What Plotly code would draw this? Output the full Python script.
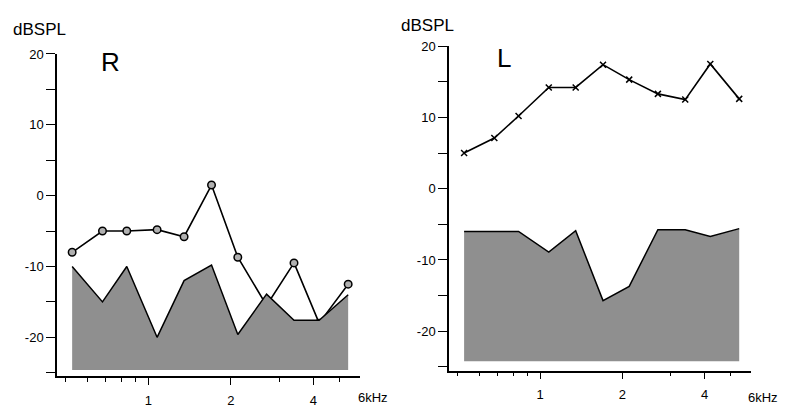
import math
import plotly.graph_objects as go

# ---------------- data ----------------
freq_khz = [0.527, 0.68, 0.834, 1.076, 1.35, 1.70, 2.12, 2.70, 3.40, 4.20, 5.36]

dp_R = [-8.0, -5.0, -5.0, -4.8, -5.8, 1.5, -8.7, -15.5, -9.5, -18.0, -12.5]
noise_R = [-10.0, -15.0, -10.0, -20.0, -12.0, -9.8, -19.6, -13.9, -17.6, -17.6, -14.0]

dp_L = [5.0, 7.1, 10.2, 14.2, 14.2, 17.4, 15.3, 13.3, 12.5, 17.5, 12.6]
noise_L = [-6.0, -6.0, -6.0, -8.9, -5.9, -15.7, -13.7, -5.75, -5.75, -6.7, -5.6]

noise_base_R = -24.6
noise_base_L = -24.2

y_tick_vals = [-25, -20, -15, -10, -5, 0, 5, 10, 15, 20]
y_tick_text = [str(v) if v % 10 == 0 and v != -25 else "" for v in y_tick_vals]
x_major_vals = [1, 2, 4]
x_major_text = ["1", "2", "4"]
x_minor_vals = [0.5, 0.6, 0.7, 0.8, 0.9, 3, 5, 6]

W, H = 785, 408
FONT = "Liberation Sans, Arial, sans-serif"

fig = go.Figure()


def add_panel(xa, ya, dp, noise, base, symbol, msize, mcolor):
    # DP-gram line (drawn first so the noise shading covers it)
    fig.add_trace(go.Scatter(
        x=freq_khz, y=dp, mode="lines+markers",
        line=dict(color="black", width=1.6),
        marker=dict(symbol=symbol, size=msize, color=mcolor,
                    line=dict(color="black", width=1.5)),
        xaxis=xa, yaxis=ya, showlegend=False, hoverinfo="skip"))
    # noise floor shading
    fig.add_trace(go.Scatter(
        x=freq_khz + freq_khz[::-1],
        y=noise + [base] * len(noise),
        mode="lines", fill="toself", fillcolor="#8f8f8f",
        line=dict(width=0), xaxis=xa, yaxis=ya,
        showlegend=False, hoverinfo="skip"))
    # noise top outline
    fig.add_trace(go.Scatter(
        x=freq_khz, y=noise, mode="lines",
        line=dict(color="black", width=1.5),
        xaxis=xa, yaxis=ya, showlegend=False, hoverinfo="skip"))


add_panel("x", "y", dp_R, noise_R, noise_base_R, "circle", 7.5, "#b0b0b0")
add_panel("x2", "y2", dp_L, noise_L, noise_base_L, "x-thin", 6, "black")

xrange_log = [math.log10(0.464), math.log10(5.92)]


def xaxis_cfg(x0, x1, anchor):
    return dict(
        type="log", range=xrange_log, domain=[x0 / W, x1 / W], anchor=anchor,
        tickmode="array", tickvals=x_major_vals, ticktext=x_major_text,
        ticks="outside", ticklen=7, tickwidth=1.2, tickcolor="black",
        showline=True, linecolor="black", linewidth=1.5,
        showgrid=False, zeroline=False, ticklabelstandoff=4,
        tickfont=dict(family=FONT, size=13, color="black"),
        minor=dict(tickmode="array", tickvals=x_minor_vals, ticks="outside",
                   ticklen=4, tickwidth=1.2, tickcolor="black", showgrid=False),
    )


def yaxis_cfg(ytop_px, ybot_px, anchor):
    return dict(
        range=[-25.5, 20], domain=[1 - ybot_px / H, 1 - ytop_px / H], anchor=anchor,
        tickmode="array", tickvals=y_tick_vals, ticktext=y_tick_text,
        ticks="outside", ticklen=9, tickwidth=1.2, tickcolor="black",
        showline=True, linecolor="black", linewidth=1.5,
        showgrid=False, zeroline=False,
        tickfont=dict(family=FONT, size=13, color="black"),
    )


fig.update_layout(
    width=W, height=H,
    margin=dict(l=0, r=0, t=0, b=0),
    paper_bgcolor="white", plot_bgcolor="white",
    xaxis=xaxis_cfg(57, 360, "y"),
    yaxis=yaxis_cfg(48, 377.6, "x"),
    xaxis2=xaxis_cfg(449, 751, "y2"),
    yaxis2=yaxis_cfg(40, 371.7, "x2"),
    showlegend=False,
)

ann = [
    ("dBSPL", 11, 23, 17, "left"),
    ("dBSPL", 399, 19, 17, "left"),
    ("R", 99, 56, 26, "left"),
    ("L", 495, 52, 26, "left"),
    ("6kHz", 356, 399, 13, "left"),
    ("6kHz", 746, 399, 13, "left"),
]
for text, px, py, size, anchor in ann:
    fig.add_annotation(
        text=text, x=px / W, y=1 - py / H, xref="paper", yref="paper",
        xanchor=anchor, yanchor="middle", showarrow=False,
        font=dict(family=FONT, size=size, color="black"))

fig.write_html(
    "out.html",
    config={"displayModeBar": False},
    post_script="document.body.style.margin='0';document.body.style.overflow='hidden';",
)
